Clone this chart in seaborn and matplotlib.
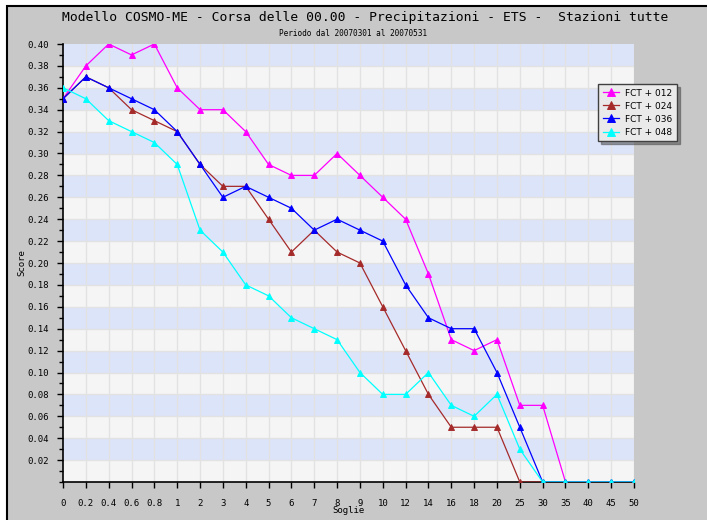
import numpy as np
import pandas as pd
import matplotlib
matplotlib.use("Agg")
import matplotlib.pyplot as plt
from matplotlib.patches import Rectangle
from matplotlib.ticker import MultipleLocator
import seaborn as sns

soglie = ["0", "0.2", "0.4", "0.6", "0.8", "1", "2", "3", "4", "5", "6", "7", "8", "9",
          "10", "12", "14", "16", "18", "20", "25", "30", "35", "40", "45", "50"]

fct_012 = [0.35, 0.38, 0.40, 0.39, 0.40, 0.36, 0.34, 0.34, 0.32, 0.29, 0.28, 0.28, 0.30,
           0.28, 0.26, 0.24, 0.19, 0.13, 0.12, 0.13, 0.07, 0.07, 0.0, 0.0, 0.0, 0.0]
fct_024 = [0.35, 0.37, 0.36, 0.34, 0.33, 0.32, 0.29, 0.27, 0.27, 0.24, 0.21, 0.23, 0.21,
           0.20, 0.16, 0.12, 0.08, 0.05, 0.05, 0.05, 0.0, 0.0, 0.0, 0.0, 0.0, 0.0]
fct_036 = [0.35, 0.37, 0.36, 0.35, 0.34, 0.32, 0.29, 0.26, 0.27, 0.26, 0.25, 0.23, 0.24,
           0.23, 0.22, 0.18, 0.15, 0.14, 0.14, 0.10, 0.05, 0.0, 0.0, 0.0, 0.0, 0.0]
fct_048 = [0.36, 0.35, 0.33, 0.32, 0.31, 0.29, 0.23, 0.21, 0.18, 0.17, 0.15, 0.14, 0.13,
           0.10, 0.08, 0.08, 0.10, 0.07, 0.06, 0.08, 0.03, 0.0, 0.0, 0.0, 0.0, 0.0]

labels = ["FCT + 012", "FCT + 024", "FCT + 036", "FCT + 048"]
colors = ["#FF00FF", "#A52A2A", "#0000FF", "#00FFFF"]

rows = []
for lab, vals in zip(labels, [fct_012, fct_024, fct_036, fct_048]):
    for s, v in zip(soglie, vals):
        rows.append([s, v, lab])
df = pd.DataFrame(rows, columns=["soglia", "score", "fct"])

mono = "DejaVu Sans Mono"

fig = plt.figure(figsize=(7.07, 5.20), dpi=100)
fig.patch.set_facecolor("white")
# grey panel, black frame only visible on top/left
fig.patches.append(Rectangle((7 / 707, -0.05), 1.2, 1 - 6 / 520 + 0.05, transform=fig.transFigure,
                             facecolor="#C8C8C8", edgecolor="black", lw=1.5, zorder=-10))

ax = fig.add_axes([63 / 707, 1 - 482 / 520, (634 - 63) / 707, (482 - 44) / 520])
ax.set_facecolor("#F5F5F5")

# alternating bands
for k in range(20):
    if k % 2 == 1:
        ax.axhspan(0.02 * k, 0.02 * (k + 1), color="#DCE4FA", lw=0, zorder=0)
for k in range(1, 20):
    ax.axhline(0.02 * k, color="#E2E2E2", lw=1, zorder=0.5)
for i in range(1, len(soglie)):
    ax.axvline(i, color="#E2E2E2", lw=1, zorder=0.5)

sns.pointplot(data=df, x="soglia", y="score", hue="fct", order=soglie, hue_order=labels,
              palette=colors, markers="^", linestyles="-", errorbar=None,
              linewidth=0.9, markersize=4.5, ax=ax, zorder=3)

ax.set_xlim(0, len(soglie) - 1)
ax.set_ylim(0, 0.40)
ax.yaxis.set_minor_locator(MultipleLocator(0.01))
ax.set_yticks(np.arange(0.02, 0.401, 0.02))
ax.set_yticklabels([f"{v:.2f}" for v in np.arange(0.02, 0.401, 0.02)], fontfamily=mono, fontsize=6.5)
ax.set_xticks(range(len(soglie)))
ax.set_xticklabels(soglie, fontfamily=mono, fontsize=6.5)
ax.tick_params(axis="y", which="major", length=4, width=1, direction="out", pad=6)
ax.tick_params(axis="y", which="minor", length=3, width=1, direction="out")
ax.tick_params(axis="x", length=4, width=1, direction="out", pad=8)
ax.grid(False)
for side in ["top", "right"]:
    ax.spines[side].set_visible(False)
for side in ["left", "bottom"]:
    ax.spines[side].set_linewidth(1.2)
    ax.spines[side].set_color("black")

ax.set_xlabel("Soglie", fontfamily=mono, fontsize=6.5, labelpad=-1)
ax.set_ylabel("Score", fontfamily=mono, fontsize=6.5)
ax.yaxis.set_label_coords(-0.064, 0.5)

handles, hl = ax.get_legend_handles_labels()
ax.get_legend().remove()
leg = fig.legend(handles, hl, loc="upper left", bbox_to_anchor=(598 / 707, 1 - 84 / 520),
                 prop={"family": "DejaVu Sans", "size": 6.5}, frameon=True, fancybox=False,
                 shadow=True, handlelength=1.8, handletextpad=0.7, borderpad=0.5,
                 labelspacing=0.45, borderaxespad=0, markerscale=1.3)
leg.get_frame().set_facecolor("#EAEAEA")
leg.get_frame().set_edgecolor("#404040")
leg.get_frame().set_alpha(1)

fig.text(365 / 707, 1 - 17 / 520,
         "Modello COSMO-ME - Corsa delle 00.00 - Precipitazioni - ETS -  Stazioni tutte",
         ha="center", va="center", fontfamily=mono, fontsize=9.4)
fig.text(353 / 707, 1 - 33 / 520, "Periodo dal 20070301 al 20070531",
         ha="center", va="center", fontfamily=mono, fontsize=5.6)

fig.savefig("out.png", dpi=100, facecolor=fig.get_facecolor())
